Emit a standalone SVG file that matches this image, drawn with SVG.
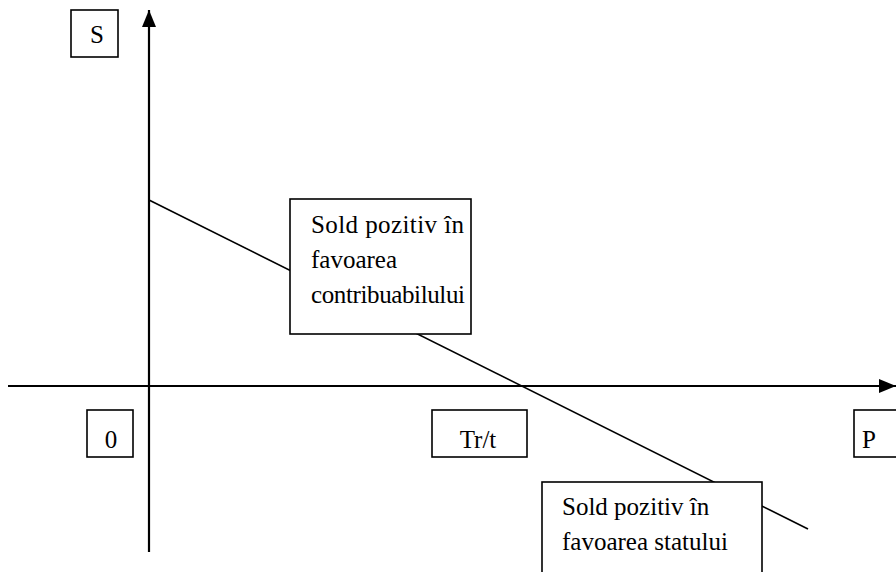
<svg xmlns="http://www.w3.org/2000/svg" width="896" height="572" viewBox="0 0 896 572">
  <style>
    .axis { stroke: #000; stroke-width: 2.2; fill: none; }
    .trend { stroke: #000; stroke-width: 1.6; fill: none; }
    .box { fill: #fff; stroke: #000; stroke-width: 1.6; }
    text { font-family: "Liberation Serif", "Times New Roman", serif; font-size: 25px; fill: #000; }
    .c { text-anchor: middle; }
  </style>
  <defs>
    <marker id="arrow" viewBox="0 0 17 14" refX="17" refY="7" markerWidth="17" markerHeight="14" markerUnits="userSpaceOnUse" orient="auto">
      <path d="M0,0 L17,7 L0,14 Z" fill="#000"/>
    </marker>
  </defs>

  <g id="connectors">
    <line class="axis" x1="149" y1="552" x2="149" y2="10" marker-end="url(#arrow)"/>
    <line class="axis" x1="8" y1="386" x2="896" y2="386" marker-end="url(#arrow)"/>
    <line class="trend" x1="149" y1="200" x2="808" y2="529"/>
  </g>

  <g id="label-s">
    <rect class="box" x="71" y="10" width="47" height="47"/>
    <text class="c" x="97" y="43">S</text>
  </g>

  <g id="label-0">
    <rect class="box" x="87" y="410" width="46" height="47"/>
    <text class="c" x="111" y="448">0</text>
  </g>

  <g id="label-trt">
    <rect class="box" x="432" y="410" width="95" height="47"/>
    <text class="c" x="478" y="448">Tr/t</text>
  </g>

  <g id="label-p">
    <rect class="box" x="854" y="410" width="60" height="47"/>
    <text x="862" y="448">P</text>
  </g>

  <g id="note-contribuabil">
    <rect class="box" x="290" y="199" width="181" height="135"/>
    <text x="311" y="233" textLength="153" lengthAdjust="spacing">Sold pozitiv în</text>
    <text x="311" y="268">favoarea</text>
    <text x="311" y="303" textLength="154" lengthAdjust="spacing">contribuabilului</text>
  </g>

  <g id="note-stat">
    <rect class="box" x="542" y="482" width="220" height="100"/>
    <text x="562" y="515">Sold pozitiv în</text>
    <text x="562" y="550">favoarea statului</text>
  </g>
</svg>
